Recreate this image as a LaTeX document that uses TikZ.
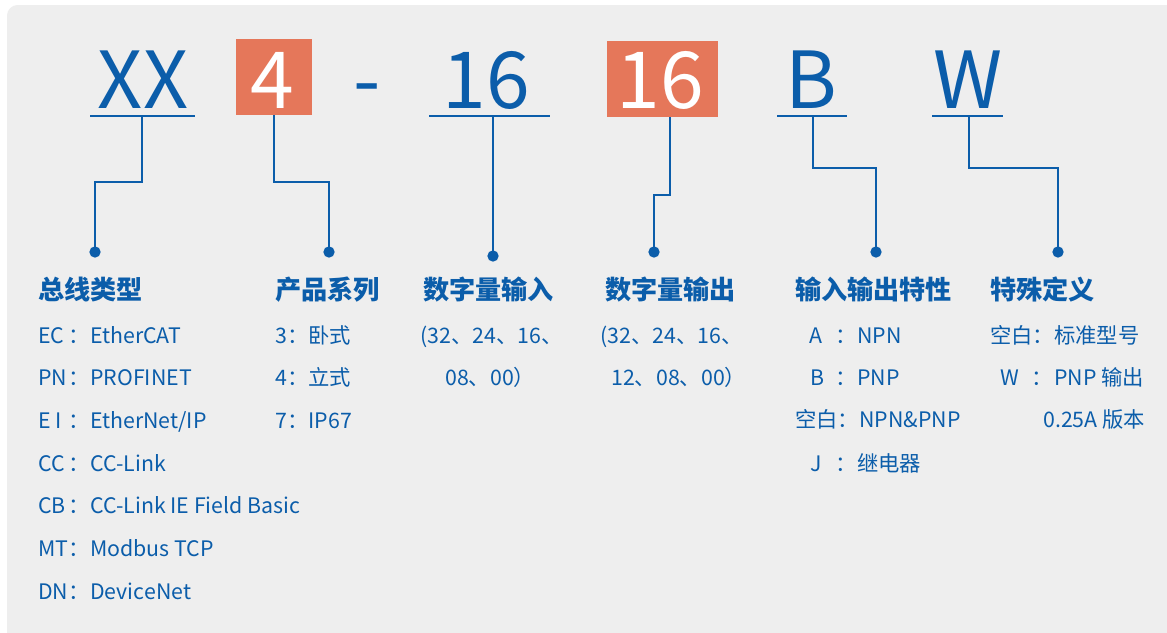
\documentclass[tikz,border=0pt]{standalone}
\usepackage{fontspec}
\setmainfont{Noto Sans CJK SC}
\definecolor{bl}{HTML}{0B5DAA}
\definecolor{org}{HTML}{E5775A}
\definecolor{bg}{HTML}{EEEEEE}
\begin{document}
\begin{tikzpicture}[x=0.75pt,y=-0.75pt,
  big/.style={font=\fontsize{59}{59}\selectfont, text=bl, inner sep=0, anchor=base},
  hdr/.style={font=\bfseries\fontsize{19.6}{20}\selectfont, text=bl, inner sep=0, anchor=base west},
  txt/.style={font=\fontsize{16}{17}\selectfont, text=bl, inner sep=0, anchor=base west},
  conn/.style={draw=bl, line width=1.5pt},
  uline/.style={draw=bl, line width=1.6pt},
  dot/.style={circle, fill=bl, inner sep=0, minimum size=8.5pt},
  obox/.style={fill=org, inner sep=0, rectangle}]
\useasboundingbox (0,0) rectangle (1167,632);
\fill[white] (0,0) rectangle (1167,632);
\fill[bg, rounded corners=8] (7,5) rectangle (1190,660);

% big code letters
\node[big] (xx) at (143,108) {XX};
\node[obox, minimum width=57pt, minimum height=57pt] (b4) at (274,77) {};
\node[big, text=white] (t4) at (272,108) {4};
\node[big] (dash) at (367,108) {-};
\node[big] (n16) at (486,108) {16};
\node[obox, minimum width=83.25pt, minimum height=57pt] (b16) at (662.5,79) {};
\node[big, text=white] (t16) at (660,108) {16};
\node[big] (bb) at (811,108) {B};
\node[big] (ww) at (968,108) {W};

% underlines
\coordinate (u1a) at (90,116);  \coordinate (u1b) at (195,116);
\coordinate (u3a) at (429,116); \coordinate (u3b) at (550,116);
\coordinate (u5a) at (777,116); \coordinate (u5b) at (847,116);
\coordinate (u6a) at (932,116); \coordinate (u6b) at (1003,116);
\draw[uline] (u1a) -- (u1b);
\draw[uline] (u3a) -- (u3b);
\draw[uline] (u5a) -- (u5b);
\draw[uline] (u6a) -- (u6b);

% dots
\node[dot] (d1) at (95,252) {};
\node[dot] (d2) at (329,252) {};
\node[dot] (d3) at (493,256) {};
\node[dot] (d4) at (654,252) {};
\node[dot] (d5) at (876,252) {};
\node[dot] (d6) at (1058,252) {};

% connectors
\coordinate (s1) at (142,116);
\coordinate (s2) at (274,115);
\coordinate (s3) at (493,116);
\coordinate (s4) at (670,117);
\coordinate (s5) at (813,116);
\coordinate (s6) at (969,116);
\draw[conn] (s1) -- ++(0,66) -| (d1.center);
\draw[conn] (s2) -- ++(0,67) -| (d2.center);
\draw[conn] (s3) -- (d3.center);
\draw[conn] (s4) -- ++(0,78) -| (d4.center);
\draw[conn] (s5) -- ++(0,52) -| (d5.center);
\draw[conn] (s6) -- ++(0,52) -| (d6.center);

% headers
\node[hdr] (h1) at (38,299) {总线类型};
\node[hdr] (h2) at (275,299) {产品系列};
\node[hdr] (h3) at (423,299) {数字量输入};
\node[hdr] (h4) at (605,299) {数字量输出};
\node[hdr] (h5) at (795,299) {输入输出特性};
\node[hdr] (h6) at (990,299) {特殊定义};

% column 1
\foreach \lab/\val/\yy [count=\i] in {EC/EtherCAT/343, PN/PROFINET/385, E I/EtherNet\slash IP/428, CC/CC-Link/471, CB/CC-Link IE Field Basic/513, MT/Modbus TCP/556, DN/DeviceNet/599}{
  \node[txt] (c1l\i) at (38,\yy) {\lab};
  \node[txt] (c1c\i) at (68,\yy) {：};
  \node[txt] (c1v\i) at (90,\yy) {\val};
}

% column 2
\node[txt] (c2a) at (275,343) {3：卧式};
\node[txt] (c2b) at (275,385) {4：立式};
\node[txt] (c2c) at (275,428) {7：IP67};

% column 3
\node[txt] (c3a) at (420,343) {(32、24、16、};
\node[txt] (c3b) at (445,385) {08、00）};

% column 4
\node[txt] (c4a) at (600,343) {(32、24、16、};
\node[txt] (c4b) at (611,385) {12、08、00）};

% column 5
\node[txt] (c5al) at (809,343) {A};
\node[txt] (c5ac) at (835,343) {：};
\node[txt] (c5av) at (857,343) {NPN};
\node[txt] (c5bl) at (810,385) {B};
\node[txt] (c5bc) at (835,385) {：};
\node[txt] (c5bv) at (857,385) {PNP};
\node[txt] (c5c) at (795,427) {空白：NPN\&PNP};
\node[txt] (c5dl) at (810,471) {J};
\node[txt] (c5dc) at (835,471) {：};
\node[txt] (c5dv) at (857,471) {继电器};

% column 6
\node[txt] (c6a) at (990,343) {空白：标准型号};
\node[txt] (c6bl) at (1000,385) {W};
\node[txt] (c6bc) at (1031,385) {：};
\node[txt] (c6bv) at (1054,385) {PNP 输出};
\node[txt] (c6c) at (1043,427) {0.25A 版本};
\end{tikzpicture}
\end{document}
